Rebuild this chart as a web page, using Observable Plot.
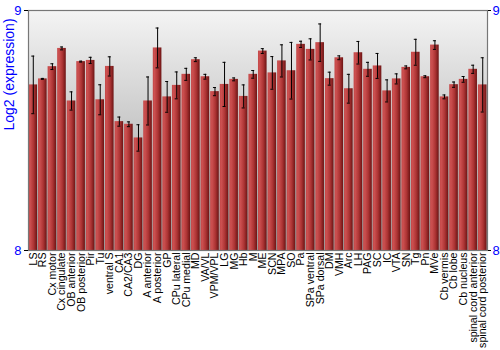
<!DOCTYPE html>
<html><head>
<meta charset="utf-8">
<script src="https://cdn.jsdelivr.net/npm/d3@7"></script>
<script src="https://cdn.jsdelivr.net/npm/@observablehq/plot@0.6"></script>
<style>body{margin:0;background:#fff;}</style>
</head><body><div id="chart"></div>
<script>
const regions = ["LS","RS","Cx motor","Cx cingulate","OB anterior","OB posterior","Pir","Tu","ventral S","CA1","CA2/CA3","DG","A anterior","A posterior","GP","CPu lateral","CPu medial","MD","VA/VL","VPM/VPL","LG","MG","Hb","M","ME","SCN","MPA","SO","Pa","SPa ventral","SPa dorsal","DM","VMH","Arc","LH","PAG","SC","IC","VTA","SN","Tg","Pn","MVe","Cb vermis","Cb lobe","Cb nucleus","spinal cord anterior","spinal cord posterior"];
const values = [8.69,8.715,8.766,8.842,8.623,8.787,8.792,8.628,8.767,8.537,8.526,8.469,8.623,8.844,8.64,8.688,8.734,8.795,8.724,8.662,8.692,8.713,8.642,8.734,8.831,8.74,8.79,8.749,8.859,8.838,8.866,8.716,8.803,8.674,8.824,8.755,8.769,8.665,8.715,8.763,8.826,8.724,8.856,8.64,8.691,8.713,8.755,8.69];
const errors = [0.12,0.002,0.012,0.006,0.038,0.002,0.013,0.0625,0.04,0.019,0.01,0.055,0.1,0.083,0.064,0.056,0.025,0.008,0.01,0.017,0.092,0.006,0.048,0.016,0.01,0.068,0.067,0.118,0.013,0.044,0.078,0.027,0.008,0.06,0.047,0.029,0.052,0.046,0.021,0.006,0.054,0.004,0.018,0.008,0.011,0.012,0.017,0.113];
const yTicks = [8, 9];
const yLabel = "Log2 (expression)";

const data = regions.map((r, i) => ({region: r, value: values[i], err: errors[i]}));

const plot = Plot.plot({
  width: 500, height: 350,
  marginLeft: 28, marginRight: 13, marginTop: 10, marginBottom: 100,
  style: {fontFamily: "Liberation Sans, Arial, sans-serif", background: "white"},
  x: {domain: regions, padding: 0.1, paddingOuter: 0.05, round: false, label: null},
  y: {domain: [8, 9], label: null},
  marks: [
    Plot.frame({fill: "url(#bgGrad)", stroke: "none"}),
    Plot.barY(data, {x: "region", y1: 8, y2: "value", fill: "url(#barGrad)"}),
    Plot.ruleX(data, {x: "region", y1: d => d.value - d.err, y2: d => d.value + d.err, stroke: "black", strokeWidth: 1}),
    Plot.tickY(data, {x: "region", y: d => d.value + d.err, insetLeft: 2.8, insetRight: 2.8, stroke: "black", strokeWidth: 1}),
    Plot.tickY(data, {x: "region", y: d => d.value - d.err, insetLeft: 2.8, insetRight: 2.8, stroke: "black", strokeWidth: 1}),
    Plot.frame({stroke: "#777", strokeWidth: 1.2}),
    Plot.axisX({tickSize: 0, tickRotate: -90, tickPadding: 2, fontSize: 10.6, fill: "black", label: null}),
    Plot.axisY({anchor: "left", ticks: yTicks, tickFormat: "d", tickSize: 4, tickPadding: 3, stroke: "black", fill: "#0000ff", fontSize: 13, label: null}),
    Plot.axisY({anchor: "right", ticks: yTicks, tickFormat: "d", tickSize: 3, tickPadding: 2, stroke: "black", fill: "#0000ff", fontSize: 13, label: null}),
    Plot.text([yLabel], {frameAnchor: "left", rotate: -90, dx: -19, fill: "#0000ff", fontSize: 14})
  ]
});

const svg = d3.select(plot);
const defs = svg.insert("defs", ":first-child");
const bg = defs.append("linearGradient").attr("id", "bgGrad").attr("x1", 0).attr("y1", 0).attr("x2", 0).attr("y2", 1);
bg.append("stop").attr("offset", "0%").attr("stop-color", "#f4f4f4");
bg.append("stop").attr("offset", "100%").attr("stop-color", "#9a9a9a");
const bar = defs.append("linearGradient").attr("id", "barGrad").attr("x1", 0).attr("y1", 0).attr("x2", 1).attr("y2", 0);
bar.append("stop").attr("offset", "0%").attr("stop-color", "#c44848");
bar.append("stop").attr("offset", "20%").attr("stop-color", "#cc5050");
bar.append("stop").attr("offset", "60%").attr("stop-color", "#ad3434");
bar.append("stop").attr("offset", "100%").attr("stop-color", "#6c1414");

document.getElementById("chart").appendChild(plot);
</script>
</body></html>
